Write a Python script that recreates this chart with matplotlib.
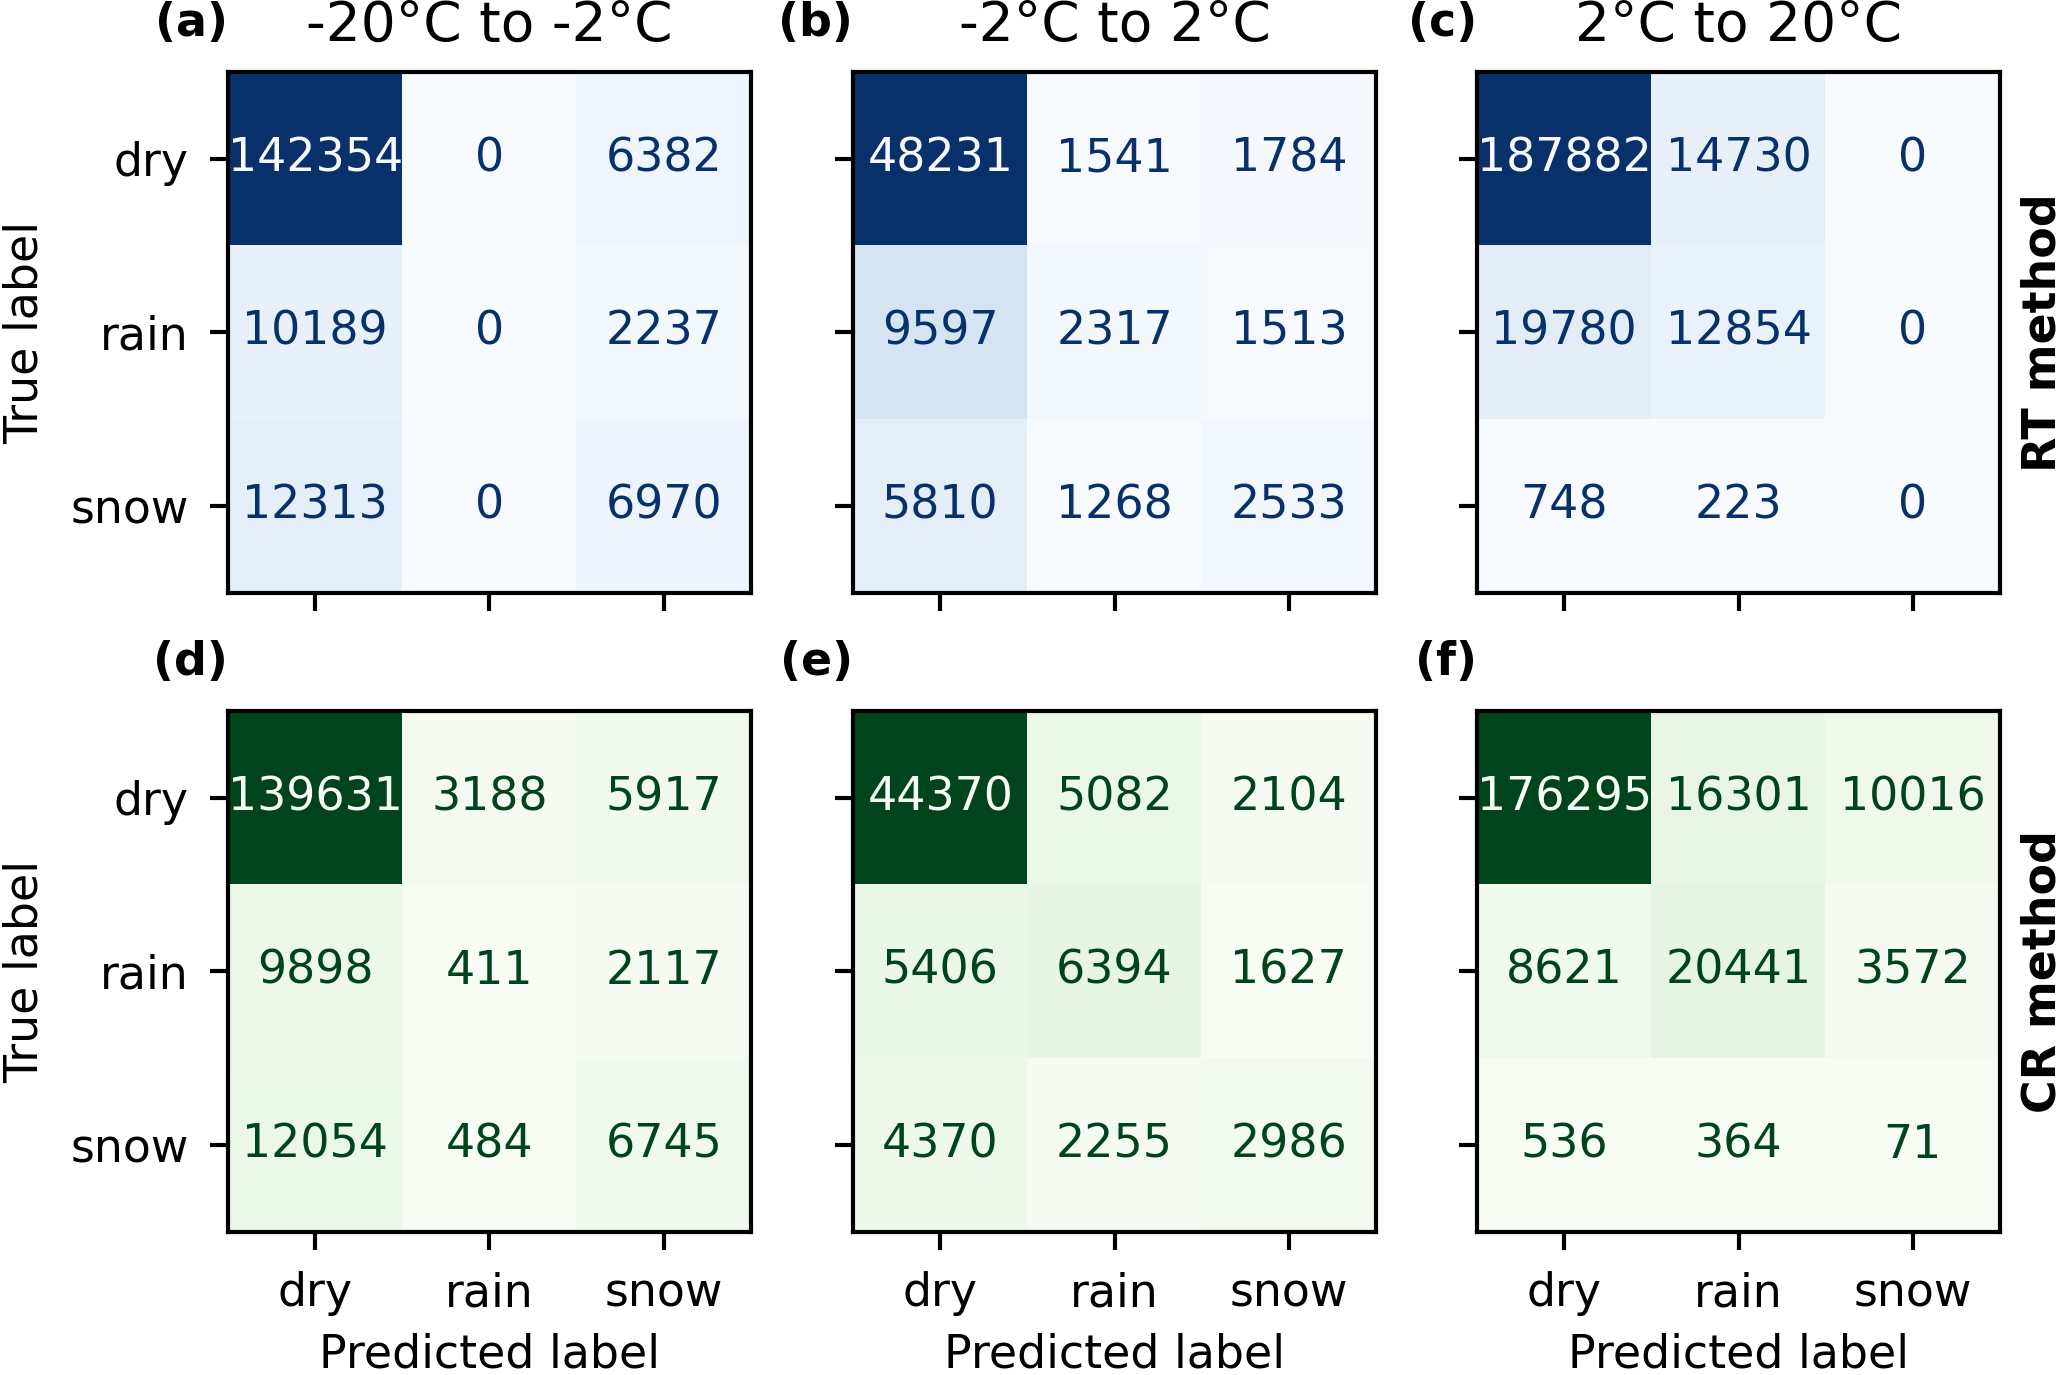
import matplotlib
matplotlib.use('Agg')
import matplotlib.pyplot as plt
import numpy as np

plt.rcParams['font.family'] = ['DejaVu Sans']
plt.rcParams['font.size'] = 11

classes = ['dry', 'rain', 'snow']
temp_ranges = ['-20°C to -2°C', '-2°C to 2°C', '2°C to 20°C']
methods = ['RT method', 'CR method']
cmaps = ['Blues', 'Greens']
panel_tags = [['(a)', '(b)', '(c)'], ['(d)', '(e)', '(f)']]

# RT method, rows = true label, cols = predicted label
rt_cold = [[142354, 0, 6382], [10189, 0, 2237], [12313, 0, 6970]]
rt_mid = [[48231, 1541, 1784], [9597, 2317, 1513], [5810, 1268, 2533]]
rt_warm = [[187882, 14730, 0], [19780, 12854, 0], [748, 223, 0]]
# CR method
cr_cold = [[139631, 3188, 5917], [9898, 411, 2117], [12054, 484, 6745]]
cr_mid = [[44370, 5082, 2104], [5406, 6394, 1627], [4370, 2255, 2986]]
cr_warm = [[176295, 16301, 10016], [8621, 20441, 3572], [536, 364, 71]]

matrices = [[rt_cold, rt_mid, rt_warm], [cr_cold, cr_mid, cr_warm]]

fig = plt.figure(figsize=(2067/300, 1375/300), dpi=300)
lefts = [0.1103, 0.4127, 0.7146]
bottoms = [0.5687, 0.104]
w, h = 0.253, 0.379

for r in range(2):
    cmap = plt.get_cmap(cmaps[r])
    for c in range(3):
        ax = fig.add_axes([lefts[c], bottoms[r], w, h])
        cm = np.array(matrices[r][c])
        ax.imshow(cm, cmap=cmap, interpolation='nearest', aspect='auto')
        thresh = (cm.max() + cm.min()) / 2
        for i in range(3):
            for j in range(3):
                col = cmap(1.0) if cm[i, j] < thresh else cmap(0.0)
                ax.text(j, i, str(cm[i, j]), ha='center', va='center', color=col)
        ax.set_xticks(range(3))
        ax.set_yticks(range(3))
        ax.tick_params(length=4.4, width=1.0, pad=5)
        for s in ax.spines.values():
            s.set_linewidth(1.0)
        if r == 1:
            ax.set_xticklabels(classes)
            ax.set_xlabel('Predicted label', labelpad=4)
        else:
            ax.set_xticklabels([])
        if c == 0:
            ax.set_yticklabels(classes)
            ax.set_ylabel('True label', labelpad=5.5)
        else:
            ax.set_yticklabels([])
        if r == 0:
            ax.set_title(temp_ranges[c], pad=7.5)
        ax.annotate(panel_tags[r][c], xy=(0, 1), xycoords='axes fraction',
                    xytext=(0, 8.5), textcoords='offset points',
                    ha='right', va='baseline', weight='bold')
        if c == 2:
            ax.text(1.04, 0.5, methods[r], transform=ax.transAxes, rotation=90,
                    ha='left', va='center', weight='bold')

fig.savefig('out.png', dpi=300)
